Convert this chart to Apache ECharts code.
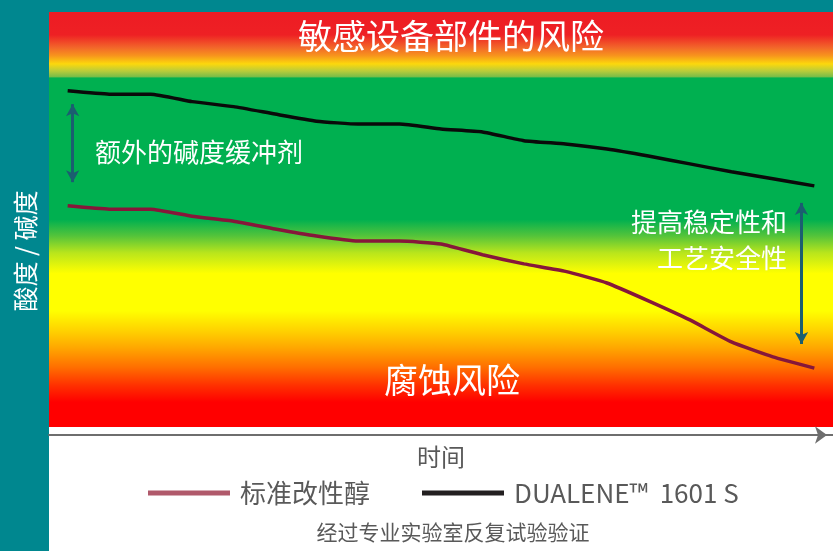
<!DOCTYPE html>
<html>
<head>
<meta charset="utf-8">
<script src="https://cdn.jsdelivr.net/npm/echarts@6/dist/echarts.min.js"></script>
<style>
html,body{margin:0;padding:0;background:#fff;}
#chart{width:833px;height:551px;}
</style>
</head>
<body>
<div id="chart"></div>
<script>
// time steps (arbitrary units)
const timePoints = [0,1,2,3,4,5,6,7,8,9,10,11,12,13,14,15,16,17,18];
// acidity / alkalinity level (0 = strongly acidic, 100 = strongly alkaline)
const dualene = [81.0,80.2,80.2,78.4,77.2,75.4,73.7,73.0,73.0,71.8,71.1,69.0,68.2,67.0,65.3,63.4,61.5,59.8,58.1];
const standardAlcohol = [53.3,52.5,52.5,50.8,49.6,47.7,46.0,44.8,44.8,44.1,41.5,39.3,37.5,34.7,30.4,25.8,20.5,16.9,14.2];
const seriesNames = ['标准改性醇', 'DUALENE™  1601 S'];
// arrow annotations: [time, from level, to level]
const bufferArrow = [0.12, 77.8, 59.0];
const stabilityArrow = [17.69, 54.0, 20.0];

const FONT = '"Noto Sans CJK SC", "Noto Sans", sans-serif';
const chart = echarts.init(document.getElementById('chart'));

const bg = new echarts.graphic.LinearGradient(0, 0, 0, 1, [
  {offset: 0.00, color: '#ed1c24'},
  {offset: 0.055, color: '#ee2024'},
  {offset: 0.085, color: '#f2652a'},
  {offset: 0.105, color: '#f7941d'},
  {offset: 0.125, color: '#fcd80c'},
  {offset: 0.142, color: '#b9cc3a'},
  {offset: 0.156, color: '#78bd48'},
  {offset: 0.159, color: '#00b050'},
  {offset: 0.50, color: '#00b050'},
  {offset: 0.54, color: '#55c43a'},
  {offset: 0.58, color: '#b8e51c'},
  {offset: 0.63, color: '#ffff00'},
  {offset: 0.72, color: '#ffff00'},
  {offset: 0.77, color: '#ffd000'},
  {offset: 0.81, color: '#ffa600'},
  {offset: 0.855, color: '#ff7000'},
  {offset: 0.90, color: '#ff3000'},
  {offset: 0.94, color: '#ff0000'},
  {offset: 1.00, color: '#ff0000'}
]);

const toPairs = arr => timePoints.map((t, i) => [t, arr[i]]);
const hidden = {axisLine: {show: false}, axisTick: {show: false}, axisLabel: {show: false}, splitLine: {show: false}};

chart.setOption({
  animation: false,
  backgroundColor: '#ffffff',
  grid: [
    {
      left: 49, right: 0, top: 12, bottom: 124,
      show: true, backgroundColor: bg, borderWidth: 0,
      containLabel: false, outerBoundsMode: 'none'
    },
    {
      // time axis sits a little below the coloured plot area
      left: 49, right: 0, top: 12, bottom: 116,
      show: false, containLabel: false, outerBoundsMode: 'none'
    }
  ],
  xAxis: [
    Object.assign({type: 'value', min: -0.45, max: 18.45, gridIndex: 0}, hidden),
    {
      type: 'value', min: -0.45, max: 18.45, gridIndex: 1,
      name: '时间', nameLocation: 'middle', nameGap: 10,
      nameTextStyle: {fontSize: 24, color: '#595959', fontFamily: FONT},
      axisLine: {show: true, lineStyle: {color: '#6e6e6e', width: 2},
        symbol: ['none', 'arrow'], symbolSize: [13, 12], symbolOffset: [0, -6]},
      axisTick: {show: false}, axisLabel: {show: false}, splitLine: {show: false}
    }
  ],
  yAxis: [
    Object.assign({type: 'value', min: 0, max: 100, gridIndex: 0}, hidden),
    Object.assign({type: 'value', min: 0, max: 100, gridIndex: 1}, hidden)
  ],
  legend: {
    left: 148, top: 480, padding: 0,
    icon: 'rect', itemWidth: 82, itemHeight: 5, itemGap: 52,
    textStyle: {fontSize: 26, color: '#595959', fontFamily: FONT, padding: [0, 0, 0, 5]},
    data: [
      {name: seriesNames[0], itemStyle: {color: '#b0596b'}},
      {name: seriesNames[1], itemStyle: {color: '#231f20'}}
    ]
  },
  series: [
    {
      name: seriesNames[0], type: 'line', data: toPairs(standardAlcohol),
      xAxisIndex: 0, yAxisIndex: 0,
      showSymbol: false, smooth: 0.15,
      lineStyle: {color: '#86173a', width: 3.5},
      itemStyle: {color: '#86173a'},
      z: 3
    },
    {
      name: seriesNames[1], type: 'line', data: toPairs(dualene),
      xAxisIndex: 0, yAxisIndex: 0,
      showSymbol: false, smooth: 0.15,
      lineStyle: {color: '#0a0a0a', width: 3.5},
      itemStyle: {color: '#0a0a0a'},
      z: 3,
      markLine: {
        silent: true, symbol: ['arrow', 'arrow'], symbolSize: [10, 12],
        label: {show: false},
        lineStyle: {color: '#1b5e70', width: 3, type: 'solid'},
        emphasis: {disabled: true},
        data: [
          [{coord: [bufferArrow[0], bufferArrow[1]]}, {coord: [bufferArrow[0], bufferArrow[2]]}],
          [{coord: [stabilityArrow[0], stabilityArrow[1]]}, {coord: [stabilityArrow[0], stabilityArrow[2]]}]
        ]
      }
    }
  ],
  graphic: [
    {type: 'rect', z: -10, silent: true, shape: {x: 0, y: 0, width: 49, height: 551}, style: {fill: '#00878f'}},
    {type: 'rect', z: -10, silent: true, shape: {x: 0, y: 0, width: 833, height: 12}, style: {fill: '#00878f'}},
    {type: 'text', z: 100, silent: true, x: 25, y: 251, rotation: Math.PI / 2,
      style: {text: '酸度 / 碱度', fill: '#ffffff', fontSize: 25, fontFamily: FONT, align: 'center', verticalAlign: 'middle'}},
    {type: 'text', z: 100, silent: true, x: 451, y: 36,
      style: {text: '敏感设备部件的风险', fill: '#ffffff', fontSize: 34, fontFamily: FONT, align: 'center', verticalAlign: 'middle'}},
    {type: 'text', z: 100, silent: true, x: 452, y: 380,
      style: {text: '腐蚀风险', fill: '#ffffff', fontSize: 34, fontFamily: FONT, align: 'center', verticalAlign: 'middle'}},
    {type: 'text', z: 100, silent: true, x: 95, y: 152,
      style: {text: '额外的碱度缓冲剂', fill: '#ffffff', fontSize: 26, fontFamily: FONT, align: 'left', verticalAlign: 'middle'}},
    {type: 'text', z: 100, silent: true, x: 787, y: 222,
      style: {text: '提高稳定性和', fill: '#ffffff', fontSize: 26, fontFamily: FONT, align: 'right', verticalAlign: 'middle'}},
    {type: 'text', z: 100, silent: true, x: 787, y: 258,
      style: {text: '工艺安全性', fill: '#ffffff', fontSize: 26, fontFamily: FONT, align: 'right', verticalAlign: 'middle'}},
    {type: 'text', z: 100, silent: true, x: 453, y: 532,
      style: {text: '经过专业实验室反复试验验证', fill: '#595959', fontSize: 21, fontFamily: FONT, align: 'center', verticalAlign: 'middle'}}
  ]
});
</script>
</body>
</html>
